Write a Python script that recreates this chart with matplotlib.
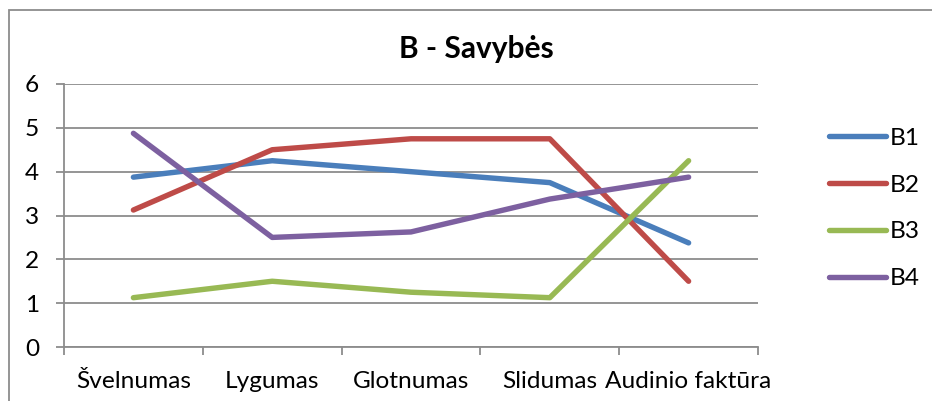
import matplotlib
matplotlib.use("Agg")
import matplotlib.pyplot as plt
from matplotlib.patches import Rectangle

plt.rcParams['font.family'] = ['Lato', 'DejaVu Sans']

categories = ["Švelnumas", "Lygumas", "Glotnumas", "Slidumas", "Audinio faktūra"]
series_names = ["B1", "B2", "B3", "B4"]
b1 = [3.875, 4.25, 4.0, 3.75, 2.375]
b2 = [3.125, 4.5, 4.75, 4.75, 1.5]
b3 = [1.125, 1.5, 1.25, 1.125, 4.25]
b4 = [4.875, 2.5, 2.625, 3.375, 3.875]
y_ticks = [0, 1, 2, 3, 4, 5, 6]
title = "B - Savybės"

colors = ["#4A7EBB", "#BE4B48", "#98B954", "#7D60A0"]
grid_c = "#8C8C8C"

W, H = 932, 401
fig = plt.figure(figsize=(W / 100, H / 100), dpi=100)
ax = fig.add_axes([64 / W, 1 - 347 / H, (758 - 64) / W, (347 - 84) / H])

x = list(range(len(categories)))
for vals, name, c in zip([b1, b2, b3, b4], series_names, colors):
    ax.plot(x, vals, color=c, lw=3.9, solid_capstyle='round',
            solid_joinstyle='round', label=name, zorder=3)

ax.set_xlim(-0.5, len(categories) - 0.5)
ax.set_ylim(0, 6)
ax.set_yticks(y_ticks)
ax.set_yticklabels([str(v) for v in y_ticks])
ax.yaxis.grid(True, color=grid_c, lw=1.3)
ax.set_axisbelow(True)

fs = 17.6
ax.set_xticks(x)
ax.set_xticklabels(categories)
ax.set_xticks([i - 0.5 for i in range(len(categories) + 1)], minor=True)
ax.tick_params(axis='x', which='major', length=0, pad=17, labelsize=fs, colors='black')
ax.tick_params(axis='x', which='minor', length=6, width=1.3, color=grid_c, direction='out')
ax.tick_params(axis='y', length=6, width=1.3, color=grid_c, pad=12, labelsize=fs)

for s in ['top', 'right']:
    ax.spines[s].set_visible(False)
for s in ['left', 'bottom']:
    ax.spines[s].set_color(grid_c)
    ax.spines[s].set_linewidth(1.3)

fig.text(476 / W, 1 - 49 / H, title, ha='center', va='center',
         fontsize=21.5, fontweight='bold')

leg = fig.legend(loc='center left', bbox_to_anchor=(829 / W, 1 - 208.5 / H),
                 frameon=False, fontsize=fs, handlelength=2.35,
                 handletextpad=0.15, labelspacing=1.05, borderpad=0,
                 borderaxespad=0)
for h in leg.get_lines():
    h.set_linewidth(3.9)
    h.set_solid_capstyle('round')

fig.add_artist(Rectangle((9 / W, -0.2), 2.0, 1.2 - 10 / H,
                         transform=fig.transFigure, fill=False,
                         edgecolor=grid_c, lw=1.3))

fig.savefig("out.png", dpi=100)
